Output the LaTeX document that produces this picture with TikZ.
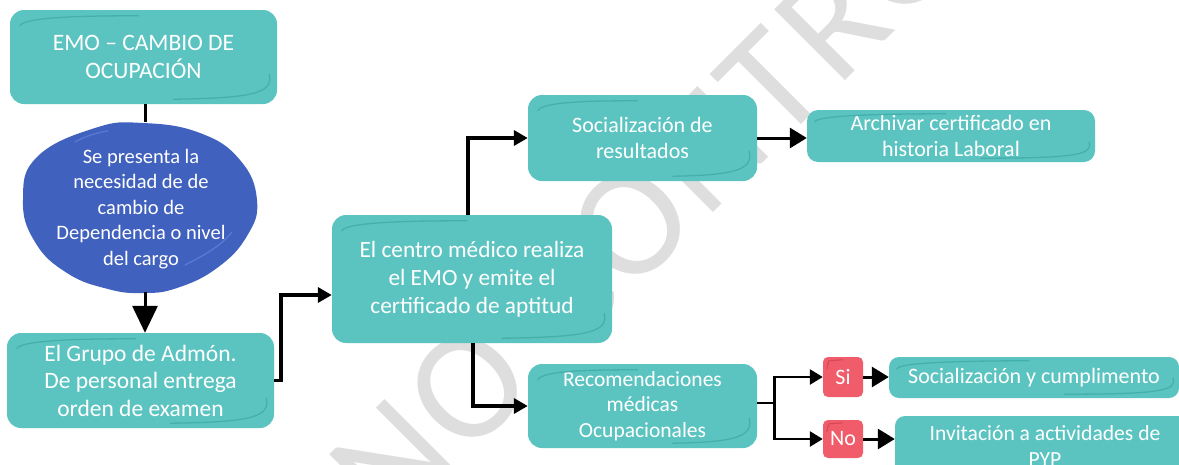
\documentclass[tikz,border=0pt]{standalone}
\usepackage{fontspec}
\setmainfont{Carlito}
\newfontfamily\wmfont[LetterSpace=3]{Carlito}
\usetikzlibrary{arrows.meta,calc,shapes.geometric}
\definecolor{tealbox}{RGB}{91,196,193}
\definecolor{tealdark}{RGB}{68,176,172}
\definecolor{blueblob}{RGB}{65,97,190}
\definecolor{bluelight}{RGB}{90,122,210}
\definecolor{redbox}{RGB}{240,92,106}
\definecolor{reddark}{RGB}{214,70,86}
\definecolor{wmgray}{RGB}{222,222,222}
\newcommand{\skbox}[1]{%
  \draw[skm] ($(#1.north west)+(10,16)$) .. controls ($(#1.north west)+(14,6)$) and ($(#1.north)+(-40,6)$) .. ($(#1.north)+(-5,6)$);
  \draw[skm] ($(#1.south east)+(-8,-30)$) .. controls ($(#1.south east)+(-4,-12)$) and ($(#1.south east)+(-20,-6)$) .. ($(#1.south)+(30,-5)$);}
\newcommand{\sksmall}[1]{%
  \draw[skm] ($(#1.north west)+(8,12)$) .. controls ($(#1.north west)+(10,4)$) and ($(#1.north)+(-30,4)$) .. ($(#1.north)+(-5,4)$);
  \draw[skm] ($(#1.south east)+(-6,-20)$) .. controls ($(#1.south east)+(-3,-8)$) and ($(#1.south east)+(-15,-4)$) .. ($(#1.south)+(30,-4)$);}
\newcommand{\fs}[2]{\fontsize{#1}{#2}\selectfont}
\begin{document}
\begin{tikzpicture}[x=1pt,y=-1pt,
  box/.style={fill=tealbox, rounded corners=14pt, inner sep=0pt, text=white, align=center},
  redtag/.style={fill=redbox, rounded corners=5pt, inner sep=0pt, text=white,
              font=\fs{22}{26}, minimum width=40pt},
  skm/.style={draw=tealdark, line width=1.3pt, line cap=round},
  wire/.style={line width=3.5pt, draw=black},
  conn/.style={wire, -{Triangle[length=14pt,width=15pt]}},
  bigconn/.style={wire, -{Triangle[length=27pt,width=25pt]}},
  smallconn/.style={line width=2.6pt, -{Triangle[length=13pt,width=15pt]}},
  tagconn/.style={line width=3pt, -{Triangle[length=17pt,width=20pt]}},
  blobtxt/.style={text=white, align=center, font=\fs{20.5}{25.5}}]
\useasboundingbox (0,0) rectangle (1179,464);
\fill[white] (0,0) rectangle (1179,464);
% watermark
\node[rotate=45, anchor=base west, text=wmgray, font=\wmfont\fs{156}{156}, inner sep=0pt]
  (wm) at (392,534) {NO CONTROLADA};
% boxes
\node[box, font=\fs{23.5}{28}, minimum width=267pt, minimum height=94pt] (emo) at (143.5,57) {EMO -- CAMBIO DE\\OCUPACIÓN};
\node[ellipse, minimum width=235pt, minimum height=170pt, inner sep=0pt] (blob) at (140,207) {};
\fill[blueblob] plot[smooth cycle, tension=0.75] coordinates {(143,123) (200,133) (240,160) (257,200) (247,236) (217,268) (177,288) (143,293) (108,289) (67,273) (35,242) (23,200) (37,157) (95,128)};
\draw[bluelight, line width=1.3pt, line cap=round] (75,142) .. controls (85,136) and (100,132) .. (108,131);
\draw[bluelight, line width=1.3pt, line cap=round] (185,265) .. controls (205,255) and (222,245) .. (232,232);
\node[blobtxt] (blobt) at (141,209) {Se presenta la\\necesidad de de\\cambio de\\Dependencia o nivel\\del cargo};
\node[box, font=\fs{23.5}{27.5}, minimum width=267pt, minimum height=95pt] (adm) at (140.5,380.5) {El Grupo de Admón.\\De personal entrega\\orden de examen};
\node[box, font=\fs{23.3}{28}, minimum width=280pt, minimum height=128pt] (cen) at (472,279) {El centro médico realiza\\el EMO y emite el\\certificado de aptitud};
\node[box, font=\fs{22}{26.7}, minimum width=229pt, minimum height=86pt] (soc) at (642.5,138) {Socialización de\\resultados};
\node[box, font=\fs{22}{26.7}, minimum width=288pt, minimum height=52pt, rounded corners=11pt] (arch) at (951,136) {Archivar certificado en\\historia Laboral};
\node[box, font=\fs{21.5}{25.7}, minimum width=229pt, minimum height=84pt] (rec) at (642.5,406) {Recomendaciones\\médicas\\Ocupacionales};
\node[redtag, minimum height=40pt] (si) at (843,377) {Si};
\node[redtag, minimum height=38pt] (no) at (843,439) {No};
\node[box, font=\fs{22}{26}, minimum width=290pt, minimum height=41pt, rounded corners=10pt] (sc) at (1034,377.5) {Socialización y cumplimento};
\node[box, font=\fs{21.6}{25.5}, minimum width=300pt, minimum height=60pt, rounded corners=10pt] (inv) at (1045,446) {Invitación a actividades de\\PYP};
% sketch marks
\skbox{emo}\skbox{adm}\skbox{cen}\skbox{soc}\skbox{rec}
\sksmall{arch}\sksmall{sc}
\draw[draw=reddark, line width=1pt] ($(si.north west)+(4,12)$) -- ($(si.north west)+(6,4)$) -- ($(si.north)+(0,3)$);
\draw[draw=reddark, line width=1pt] ($(no.north west)+(4,12)$) -- ($(no.north west)+(6,4)$) -- ($(no.north)+(0,3)$);
% connectors
\coordinate (spine) at (145,0);
\draw[wire, line width=3pt] (emo.south -| spine) -- (blob.north -| spine);
\draw[bigconn, line width=3pt] (blob.south -| spine) -- (adm.north -| spine);
\draw[conn] (adm.east) -- ++(7,0) |- ($(cen.west)+(0,16)$);
\draw[conn] ($(cen.north)+(-4,0)$) |- (soc.west);
\draw[conn] ($(cen.south)+(1,0)$) |- (rec.west);
\draw[tagconn] (soc.east) -- (soc.east -| arch.west);
\draw[line width=2.6pt] ($(rec.east)+(0,-3)$) -- ++(17,0) coordinate (fork);
\draw[smallconn] ($(fork)+(0,-1.3)$) |- (si.west);
\draw[smallconn] ($(fork)+(0,-1.3)$) |- (no.west);
\draw[tagconn] (si.east) -- (si.east -| sc.west);
\draw[tagconn] (no.east) -- (no.east -| inv.west);
\end{tikzpicture}
\end{document}
